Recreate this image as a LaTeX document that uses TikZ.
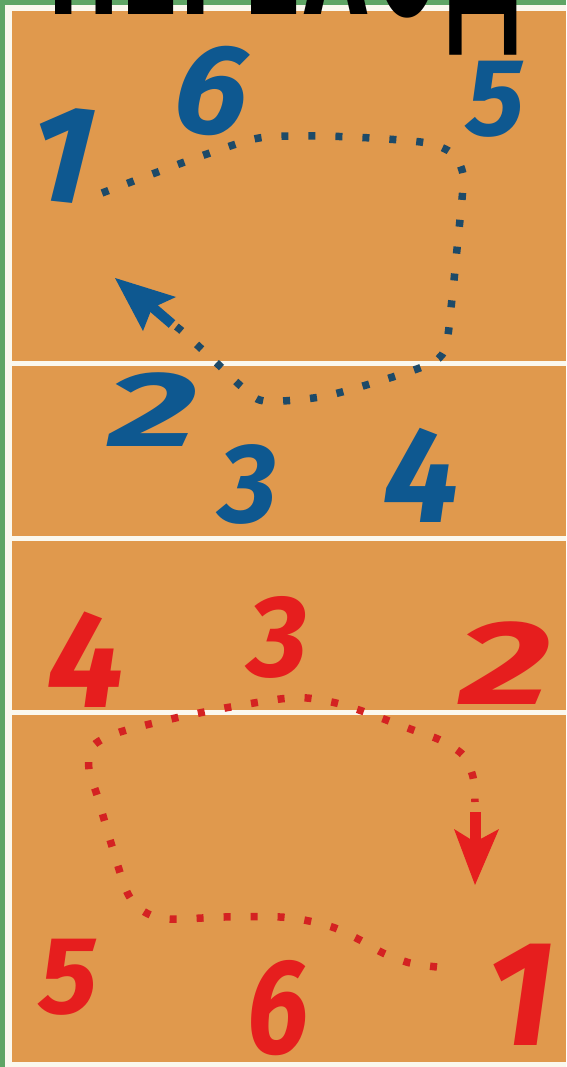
\documentclass[tikz,border=0pt]{standalone}
\usepackage{fontspec}
\usepackage{graphicx}
\newfontfamily\numfont{Fira Sans}
\newfontfamily\titlefont{DejaVu Sans}
\definecolor{court}{HTML}{E0994D}
\definecolor{edge}{HTML}{5FA565}
\definecolor{linew}{HTML}{FBF8EE}
\definecolor{numblue}{HTML}{0E5890}
\definecolor{dotblue}{HTML}{1D4A68}
\definecolor{numred}{HTML}{E61E1E}
\definecolor{dotred}{HTML}{D42222}
\begin{document}
\begin{tikzpicture}[x=1pt,y=-1pt,
  num/.style={font=\numfont\bfseries\itshape\fontsize{100}{100}\selectfont, inner sep=0pt, outer sep=0pt},
  bnum/.style={num, text=numblue},
  rnum/.style={num, text=numred},
  bdots/.style={draw=dotblue, line width=7.5pt, dash pattern=on 7pt off 20pt},
  rdots/.style={draw=dotred, line width=7.5pt, dash pattern=on 7pt off 20pt},
  courtline/.style={fill=linew}]
\useasboundingbox (0,0) rectangle (566,1067);
% background and court
\fill[linew] (0,0) rectangle (566,1067);
\fill[edge] (0,0) rectangle (5,1067);
\fill[edge] (0,0) rectangle (566,5);
\fill[court] (12,11) rectangle (566,1062);
\fill[courtline] (12,361) rectangle (566,366);
\fill[courtline] (12,536) rectangle (566,541);
\fill[courtline] (12,710) rectangle (566,715);
% title (cut off at the top)
\begin{scope}
\clip (0,0) rectangle (566,1067);
\node[anchor=base west, inner sep=0pt] (title) at (47,15)
  {\scalebox{0.335}[1]{\titlefont\bfseries\fontsize{260}{260}\selectfont ПЕРЕХОД}};
\end{scope}
% blue numbers
\node[bnum, scale=1.4, rotate=-6] (b1) at (62,155) {1};
\node[bnum, scale=1.3, rotate=-8] (b6) at (212,90) {6};
\node[bnum, scale=1.1] (b5) at (495,99) {5};
\node[bnum, xscale=1.75, yscale=1.07] (b2) at (153,410) {2};
\node[bnum, scale=1.13] (b3) at (248,484) {3};
\node[bnum, scale=1.36] (b4) at (421,475) {4};
% red numbers
\node[rnum, scale=1.38] (r4) at (86,660) {4};
\node[rnum, scale=1.16] (r3) at (278,637) {3};
\node[rnum, xscale=1.8, yscale=1.2] (r2) at (505,663) {2};
\node[rnum, scale=1.1] (r5) at (68,977) {5};
\node[rnum, xscale=1.1, yscale=1.35] (r6) at (278,1008) {6};
\node[rnum, scale=1.5] (r1) at (521,995) {1};
% blue path
\coordinate (bs) at (102,193);
\draw[bdots] plot[smooth, tension=0.5] coordinates {(102,193) (155,173) (207,154) (259,138) (315,136) (371,138) (427,143) (453,154) (463,174) (462,199) (457,249) (452,299) (445,349) (427,365) (373,383) (320,397) (264,401) (242,387) (222,368) (183,332) (170,322)};
\coordinate (bsh) at (172,324);
\coordinate (bn) at (151,306);
\draw[numblue, line width=10pt] (bsh) -- (bn);
\fill[numblue] (115,278) -- (176,297) -- (152,308) -- (143,331) -- cycle;
% red path
\draw[rdots] plot[smooth, tension=0.5] coordinates {(437,967) (410,963) (383,953) (360,940) (335,928) (309,921) (280,917) (224,917) (168,919) (143,911) (127,892) (111,843) (97,795) (89,770) (92,747) (117,733) (171,719) (225,708) (280,699) (307,698) (336,703) (362,711) (413,730) (440,740) (463,755) (473,777) (475,802)};
\coordinate (rsh) at (475,812);
\coordinate (rn) at (475,842);
\draw[numred, line width=11pt] (rsh) -- (rn);
\fill[numred] (475,885) -- (454,829) -- (475,842) -- (499,829) -- cycle;
\end{tikzpicture}
\end{document}
